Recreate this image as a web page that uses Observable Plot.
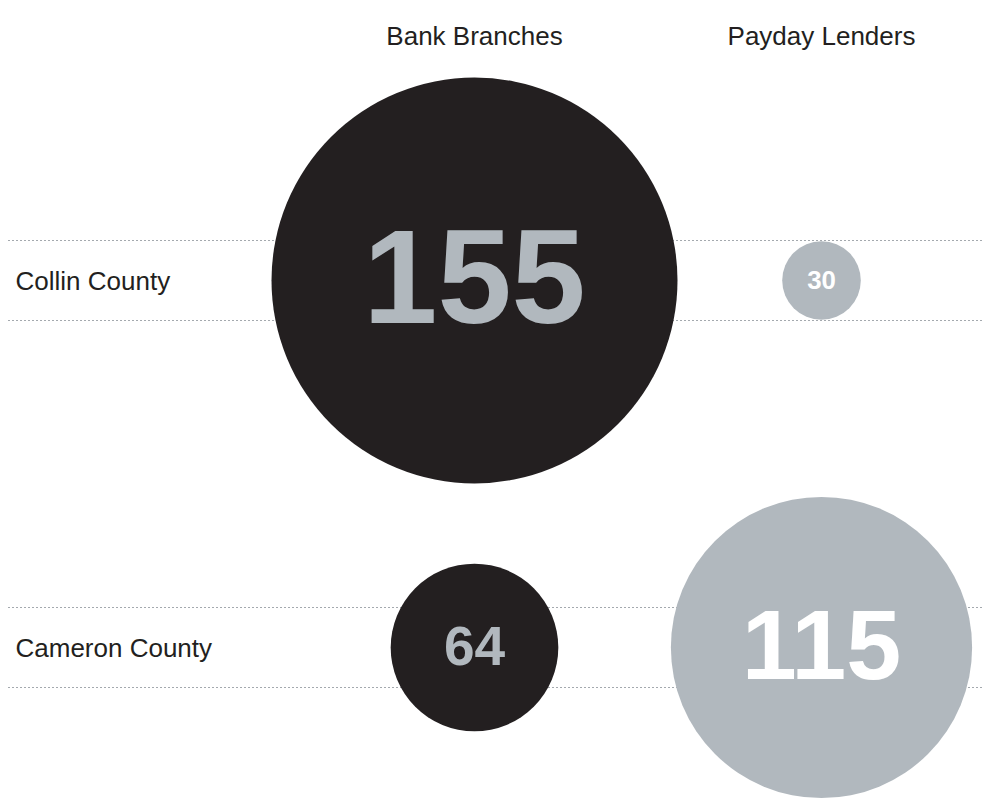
<!DOCTYPE html>
<html>
<head>
<meta charset="utf-8">
<script src="https://cdn.jsdelivr.net/npm/d3@7"></script>
<script src="https://cdn.jsdelivr.net/npm/@observablehq/plot@0.6"></script>
<style>
  html, body { margin: 0; padding: 0; background: #fff; }
  #chart svg { display: block; font-family: Helvetica, "Liberation Sans", Arial, sans-serif; }
</style>
</head>
<body>
<div id="chart"></div>
<script>
const counties = ["Collin County", "Cameron County"];
const columns = ["Bank Branches", "Payday Lenders"];
const bankBranches = [155, 64];
const paydayLenders = [30, 115];

const rows = [];
counties.forEach((c, i) => {
  rows.push({county: c, type: columns[0], value: bankBranches[i]});
  rows.push({county: c, type: columns[1], value: paydayLenders[i]});
});

const dark = "#231f20";
const grey = "#b1b8be";

const plot = Plot.plot({
  width: 991,
  height: 801,
  marginTop: 0,
  marginBottom: 0,
  marginLeft: 8,
  marginRight: 8,
  x: {type: "point", domain: columns, range: [474, 821], padding: 0, axis: null},
  y: {type: "point", domain: counties, range: [280, 647], padding: 0, axis: null},
  r: {type: "linear", domain: [0, 155], range: [0, 203]},
  marks: [
    Plot.ruleY(counties, {y: d => d, dy: -40, stroke: "#a4a9ae", strokeDasharray: "2,2", strokeWidth: 1}),
    Plot.ruleY(counties, {y: d => d, dy: 40, stroke: "#a4a9ae", strokeDasharray: "2,2", strokeWidth: 1}),
    Plot.text(columns, {x: d => d, frameAnchor: "top", dy: 26, text: d => d, fontSize: 26, fill: dark}),
    Plot.text(counties, {y: d => d, frameAnchor: "left", dx: 7, dy: 1, text: d => d, fontSize: 26, fill: dark, textAnchor: "start"}),
    Plot.dot(rows, {x: "type", y: "county", r: "value", fill: d => d.type === columns[0] ? dark : grey, stroke: null}),
    Plot.text(rows, {
      x: "type", y: "county", text: d => String(d.value),
      fontSize: d => d.value * 0.86, fontWeight: "bold",
      fill: d => d.type === columns[0] ? grey : "#ffffff",
      ariaLabel: "value-labels"
    })
  ]
});

d3.select(plot).selectAll('g[aria-label="value-labels"] text').style("letter-spacing", "-0.045em");
document.getElementById("chart").appendChild(plot);
</script>
</body>
</html>
